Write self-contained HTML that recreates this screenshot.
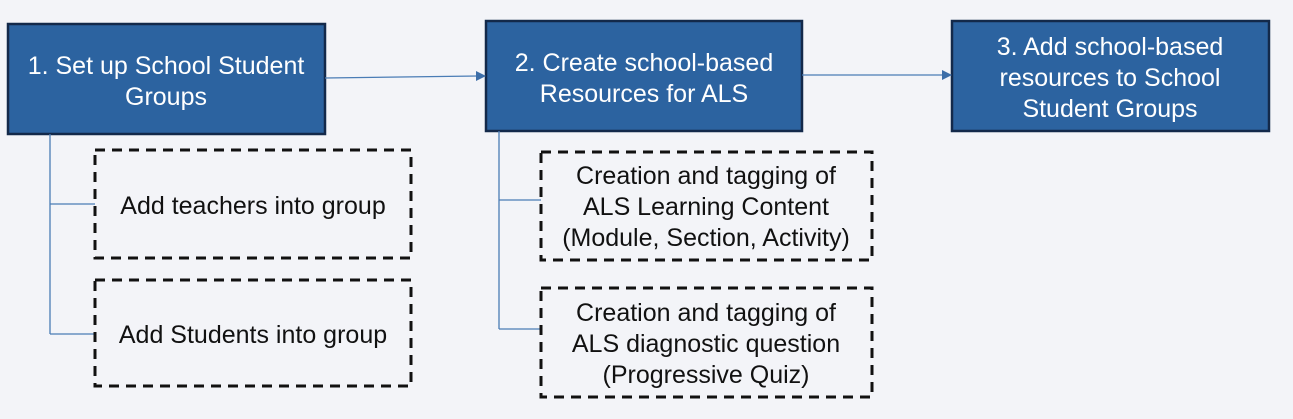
<!DOCTYPE html>
<html><head><style>
body{margin:0;background:#f3f4f8;}
svg{display:block;font-family:"Liberation Sans",Arial,sans-serif;}
.b{fill:#2c63a0;stroke:#13294a;stroke-width:2.5}
.d{fill:none;stroke:#111;stroke-width:3;stroke-dasharray:10,7}
.w{fill:#fff;font-size:25px;text-anchor:middle}
.k{fill:#111;font-size:25px;text-anchor:middle}
.l{stroke:#4a7cb5;stroke-width:1.3;fill:none}
</style></head><body>
<svg width="1293" height="419" viewBox="0 0 1293 419">
<rect width="1293" height="419" fill="#f3f4f8"/>
<rect class="b" x="8" y="24" width="317" height="110"/>
<text class="w" x="166" y="74">1. Set up School Student</text>
<text class="w" x="166" y="105">Groups</text>
<rect class="b" x="486" y="21" width="316" height="110"/>
<text class="w" x="644" y="71">2. Create school-based</text>
<text class="w" x="644" y="102">Resources for ALS</text>
<rect class="b" x="952" y="21" width="317" height="110"/>
<text class="w" x="1110" y="55">3. Add school-based</text>
<text class="w" x="1110" y="86">resources to School</text>
<text class="w" x="1110" y="117">Student Groups</text>
<path class="l" d="M325 78 L478 76"/><path d="M486 76 L476 71 L476 81Z" fill="#3d6ea8"/>
<path class="l" d="M802 75 L944 75"/><path d="M952 75 L942 70 L942 80Z" fill="#3d6ea8"/>
<path class="l" d="M50 134 V334 M50 204 H95 M50 334 H95"/>
<path class="l" d="M499 131 V329 M499 200 H541 M499 329 H541"/>
<rect class="d" x="95" y="150" width="316" height="108"/>
<text class="k" x="253" y="214">Add teachers into group</text>
<rect class="d" x="95" y="280" width="316" height="106"/>
<text class="k" x="253" y="343">Add Students into group</text>
<rect class="d" x="541" y="152" width="331" height="108"/>
<text class="k" x="706" y="184">Creation and tagging of</text>
<text class="k" x="706" y="215">ALS Learning Content</text>
<text class="k" x="706" y="246">(Module, Section, Activity)</text>
<rect class="d" x="541" y="288" width="331" height="109"/>
<text class="k" x="706" y="321">Creation and tagging of</text>
<text class="k" x="706" y="352">ALS diagnostic question</text>
<text class="k" x="706" y="383">(Progressive Quiz)</text>
</svg>
</body></html>
